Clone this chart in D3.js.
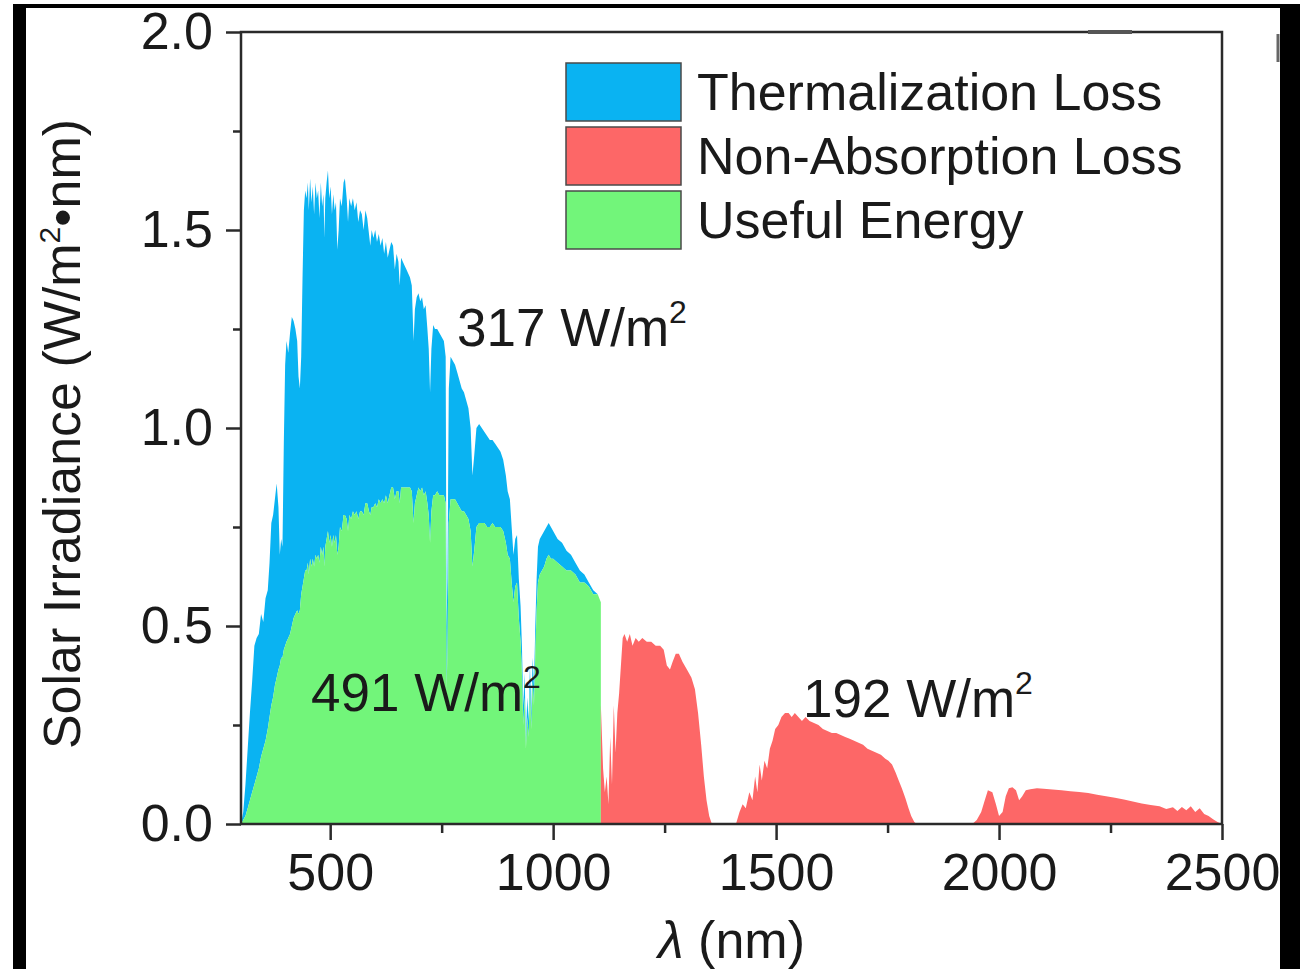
<!DOCTYPE html>
<html>
<head>
<meta charset="utf-8">
<script src="https://cdn.jsdelivr.net/npm/d3@7"></script>
<style>
  html, body { margin: 0; padding: 0; background: #fff; }
  svg { display: block; }
</style>
</head>
<body>
<svg id="chart" width="1300" height="969"></svg>
<script>
// AM1.5G solar irradiance split at the Si band gap (1107 nm).
// Above the gap: total irradiance and the part a cell can use.
const lambdaAbove = [
  300,305,310,315,320,325,330,335,340,345,350,355,360,364,368,372,376,380,384,387,
  390,393,396,399,402,406,410,414,418,422,426,429,432,435,438,441,444,447,450,452,
  455,458,461,464,467,470,473,476,479,482,485,487,489,492,495,498,501,504,507,510,
  513,516,519,522,526,530,533,537,540,543,547,551,555,559,563,567,571,575,579,583,
  587,590,593,597,601,605,609,613,617,621,625,629,633,637,641,645,649,653,656,659,
  663,667,671,675,679,683,687,690,694,698,702,706,710,714,718,721,724,727,731,735,
  740,745,750,755,759,761,763,766,770,775,780,785,790,795,800,805,810,815,819,823,
  828,834,840,846,852,858,864,870,876,882,888,894,898,903,907,911,915,919,923,927,
  930,933,936,939,942,945,948,951,954,957,960,963,966,970,975,980,985,990,995,1000,
  1010,1020,1030,1040,1050,1060,1070,1080,1090,1100,1107
];
const irradianceAbove = [
  0.00,0.03,0.10,0.19,0.28,0.36,0.45,0.47,0.48,0.53,0.51,0.57,0.59,0.66,0.76,0.78,0.82,0.86,0.80,0.68,
  0.72,0.70,0.96,1.16,1.22,1.19,1.24,1.28,1.27,1.25,1.22,1.13,1.10,1.18,1.38,1.55,1.60,1.58,1.62,1.55,
  1.63,1.57,1.61,1.54,1.62,1.58,1.60,1.53,1.62,1.56,1.59,1.48,1.58,1.62,1.65,1.58,1.61,1.54,1.59,1.55,
  1.57,1.45,1.50,1.58,1.56,1.62,1.63,1.58,1.52,1.58,1.56,1.58,1.55,1.57,1.52,1.55,1.54,1.50,1.55,1.53,
  1.49,1.46,1.50,1.48,1.50,1.47,1.49,1.46,1.48,1.44,1.47,1.43,1.45,1.47,1.46,1.40,1.44,1.42,1.36,1.43,
  1.42,1.41,1.40,1.39,1.38,1.36,1.22,1.30,1.33,1.34,1.32,1.33,1.30,1.31,1.25,1.20,1.09,1.20,1.26,1.25,
  1.25,1.24,1.23,1.22,1.18,0.50,0.62,1.10,1.18,1.17,1.16,1.14,1.12,1.10,1.09,1.07,1.05,1.00,0.88,0.93,
  1.00,1.01,1.00,0.99,0.98,0.97,0.97,0.96,0.95,0.94,0.92,0.88,0.84,0.82,0.75,0.68,0.72,0.73,0.62,0.55,
  0.45,0.30,0.38,0.22,0.32,0.26,0.40,0.28,0.42,0.35,0.50,0.62,0.70,0.72,0.73,0.74,0.75,0.76,0.75,0.74,
  0.72,0.71,0.69,0.68,0.66,0.64,0.63,0.61,0.59,0.58,0.56
];
const usefulAbove = [
  0.00,0.01,0.02,0.04,0.06,0.08,0.10,0.12,0.14,0.17,0.19,0.21,0.24,0.27,0.30,0.32,0.35,0.37,0.39,0.40,
  0.42,0.42,0.44,0.45,0.46,0.47,0.48,0.50,0.52,0.53,0.54,0.53,0.54,0.58,0.60,0.62,0.64,0.64,0.66,0.63,
  0.67,0.65,0.67,0.65,0.68,0.67,0.68,0.66,0.70,0.68,0.70,0.65,0.70,0.72,0.74,0.71,0.73,0.70,0.73,0.71,
  0.73,0.68,0.70,0.75,0.74,0.78,0.78,0.77,0.74,0.78,0.77,0.79,0.78,0.79,0.77,0.79,0.79,0.78,0.81,0.81,
  0.79,0.78,0.80,0.80,0.81,0.80,0.82,0.81,0.82,0.81,0.83,0.81,0.83,0.85,0.85,0.82,0.84,0.84,0.81,0.85,
  0.85,0.85,0.85,0.85,0.85,0.84,0.76,0.81,0.83,0.85,0.84,0.85,0.83,0.84,0.81,0.78,0.71,0.79,0.83,0.83,
  0.84,0.83,0.83,0.83,0.81,0.34,0.43,0.76,0.82,0.82,0.82,0.81,0.80,0.79,0.79,0.78,0.77,0.74,0.65,0.69,
  0.75,0.76,0.76,0.76,0.75,0.75,0.76,0.75,0.75,0.75,0.74,0.71,0.68,0.67,0.61,0.56,0.60,0.61,0.52,0.46,
  0.38,0.25,0.32,0.19,0.27,0.22,0.34,0.24,0.36,0.30,0.43,0.54,0.61,0.63,0.64,0.65,0.67,0.68,0.67,0.67,
  0.66,0.65,0.64,0.64,0.63,0.61,0.61,0.60,0.58,0.58,0.56
];
// Below the gap: photons that pass through unabsorbed.
const lambdaBelow = [
  1107,1112,1116,1120,1124,1128,1132,1136,1140,1144,1148,1152,1156,1160,1166,1172,1178,1185,1192,1200,
  1210,1220,1230,1240,1248,1255,1262,1268,1275,1282,1290,1300,1310,1318,1325,1332,1338,1344,1350,1356,
  1410,1418,1425,1432,1440,1447,1453,1458,1463,1468,1474,1480,1486,1492,1498,1505,1512,1520,1528,1535,
  1542,1550,1558,1566,1575,1585,1595,1605,1615,1625,1635,1645,1655,1665,1675,1685,1695,1705,1715,1725,
  1735,1745,1752,1760,1768,1775,1782,1790,1797,1803,1810,1815,
  1940,1950,1960,1968,1975,1985,1993,2000,2008,2015,2022,2030,2038,2045,2052,2060,2070,2085,2100,2120,
  2140,2160,2180,2200,2220,2240,2260,2280,2300,2320,2340,2360,2375,2390,2400,2410,2420,2430,2440,2450,
  2460,2470,2480,2490,2500
];
const irradianceBelow = [
  0.30,0.14,0.08,0.12,0.05,0.22,0.10,0.30,0.18,0.28,0.33,0.40,0.47,0.48,0.46,0.48,0.45,0.47,0.46,0.47,
  0.46,0.46,0.45,0.45,0.44,0.40,0.39,0.41,0.43,0.43,0.41,0.39,0.37,0.34,0.28,0.20,0.12,0.06,0.02,0.00,
  0.00,0.03,0.05,0.04,0.08,0.06,0.12,0.08,0.15,0.11,0.16,0.14,0.19,0.21,0.24,0.25,0.27,0.28,0.28,0.27,
  0.28,0.27,0.26,0.27,0.26,0.255,0.25,0.24,0.235,0.23,0.23,0.225,0.22,0.215,0.21,0.205,0.20,0.19,0.185,0.18,
  0.175,0.165,0.16,0.15,0.13,0.11,0.09,0.065,0.04,0.02,0.005,0.00,
  0.00,0.01,0.03,0.06,0.085,0.08,0.05,0.02,0.03,0.07,0.09,0.093,0.085,0.06,0.07,0.085,0.088,0.09,0.089,0.087,
  0.085,0.083,0.081,0.078,0.074,0.07,0.066,0.062,0.057,0.052,0.048,0.045,0.038,0.042,0.033,0.043,0.035,0.045,0.03,0.04,
  0.025,0.02,0.012,0.005,0.00
];

const xMajorTicks = [500, 1000, 1500, 2000, 2500];
const xMinorTicks = [750, 1250, 1750, 2250];
const yMajorTicks = [0, 0.5, 1.0, 1.5, 2.0];
const yMinorTicks = [0.25, 0.75, 1.25, 1.75];
const legendLabels = ["Thermalization Loss", "Non-Absorption Loss", "Useful Energy"];
const powerDensity = { thermalization: 317, useful: 491, nonAbsorption: 192 }; // W/m²

const colors = {
  thermalization: "#0ab3f2",
  nonAbsorption: "#fd6767",
  useful: "#72f57a"
};
const FONT = "'Liberation Sans', Arial, Helvetica, sans-serif";
const INK = "#1a1a1a";

const svg = d3.select("#chart");

// outer black frame
svg.append("rect").attr("x", 13).attr("y", 4).attr("width", 13).attr("height", 965).attr("fill", "#000");
svg.append("rect").attr("x", 13).attr("y", 4).attr("width", 1287).attr("height", 4).attr("fill", "#000");
svg.append("rect").attr("x", 1280).attr("y", 4).attr("width", 20).attr("height", 965).attr("fill", "#000");

const x = d3.scaleLinear().domain([300, 2500]).range([241, 1222]);
const y = d3.scaleLinear().domain([0, 2]).range([824, 32]);

const above = lambdaAbove.map((l, i) => ({ l, e: irradianceAbove[i], u: usefulAbove[i] }));
const below = lambdaBelow.map((l, i) => ({ l, e: irradianceBelow[i] }));

const plot = svg.append("g");

plot.append("path").datum(above)
  .attr("fill", colors.thermalization)
  .attr("d", d3.area().x(d => x(d.l)).y0(d => y(d.u)).y1(d => y(d.e)));

plot.append("path").datum(above)
  .attr("fill", colors.useful)
  .attr("d", d3.area().x(d => x(d.l)).y0(y(0)).y1(d => y(d.u)));

plot.append("path").datum(below)
  .attr("fill", colors.nonAbsorption)
  .attr("d", d3.area().x(d => x(d.l)).y0(y(0)).y1(d => y(d.e)));

// axes
function styleAxis(g, size) {
  g.select(".domain").remove();
  g.selectAll(".tick line").attr("stroke", "#2a2a2a").attr("stroke-width", 2.5);
  g.selectAll(".tick text").attr("fill", INK).attr("font-size", size).attr("font-family", FONT);
}

svg.append("g").attr("transform", `translate(0,${y(0)})`)
  .call(d3.axisBottom(x).tickValues(xMajorTicks).tickSize(16).tickPadding(13).tickFormat(d3.format("d")))
  .call(g => styleAxis(g, 52));
svg.append("g").attr("transform", `translate(0,${y(0)})`)
  .call(d3.axisBottom(x).tickValues(xMinorTicks).tickSize(9).tickFormat(""))
  .call(g => styleAxis(g, 52));

svg.append("g").attr("transform", `translate(${x(300)},0)`)
  .call(d3.axisLeft(y).tickValues(yMajorTicks).tickSize(15).tickPadding(13).tickFormat(d3.format(".1f")))
  .call(g => styleAxis(g, 52));
svg.append("g").attr("transform", `translate(${x(300)},0)`)
  .call(d3.axisLeft(y).tickValues(yMinorTicks).tickSize(8).tickFormat(""))
  .call(g => styleAxis(g, 52));

// plot frame
svg.append("rect")
  .attr("x", x(300)).attr("y", y(2))
  .attr("width", x(2500) - x(300)).attr("height", y(0) - y(2))
  .attr("fill", "none").attr("stroke", "#2a2a2a").attr("stroke-width", 2.5);
// heavier patch on the top edge and a stray edge mark at the right
svg.append("line").attr("x1", 1088).attr("x2", 1132).attr("y1", 32).attr("y2", 32)
  .attr("stroke", "#555").attr("stroke-width", 4);
svg.append("line").attr("x1", 1278).attr("x2", 1278).attr("y1", 34).attr("y2", 62)
  .attr("stroke", "#666").attr("stroke-width", 3);

// axis titles
const yTitle = svg.append("text")
  .attr("transform", `translate(80,${(y(0) + y(2)) / 2 + 6}) rotate(-90)`)
  .attr("text-anchor", "middle")
  .attr("font-family", FONT).attr("font-size", 52).attr("fill", INK);
yTitle.append("tspan").text("Solar Irradiance (W/m");
yTitle.append("tspan").attr("font-size", 30).attr("dy", -20).text("2");
yTitle.append("tspan").attr("dy", 20).text("\u2022nm)");

const xTitle = svg.append("text")
  .attr("x", (x(300) + x(2500)) / 2).attr("y", 958)
  .attr("text-anchor", "middle")
  .attr("font-family", FONT).attr("font-size", 52).attr("fill", INK);
xTitle.append("tspan").attr("font-style", "italic").text("\u03bb");
xTitle.append("tspan").text(" (nm)");

// power density labels
function powerLabel(value, px, py) {
  const t = svg.append("text").attr("x", px).attr("y", py)
    .attr("font-family", FONT).attr("font-size", 53).attr("fill", INK);
  t.append("tspan").text(`${value} W/m`);
  t.append("tspan").attr("font-size", 32).attr("dy", -23).text("2");
}
powerLabel(powerDensity.thermalization, 457, 346);
powerLabel(powerDensity.useful, 311, 711);
powerLabel(powerDensity.nonAbsorption, 803, 717);

// legend
const legendColors = [colors.thermalization, colors.nonAbsorption, colors.useful];
const legend = svg.append("g");
legendLabels.forEach((label, i) => {
  const top = 63 + i * 64;
  legend.append("rect")
    .attr("x", 566).attr("y", top).attr("width", 115).attr("height", 58)
    .attr("fill", legendColors[i]).attr("stroke", "#4a4a4a").attr("stroke-width", 1.5);
  legend.append("text")
    .attr("x", 697).attr("y", top + 47)
    .attr("font-family", FONT).attr("font-size", 52).attr("fill", INK)
    .text(label);
});
</script>
</body>
</html>
